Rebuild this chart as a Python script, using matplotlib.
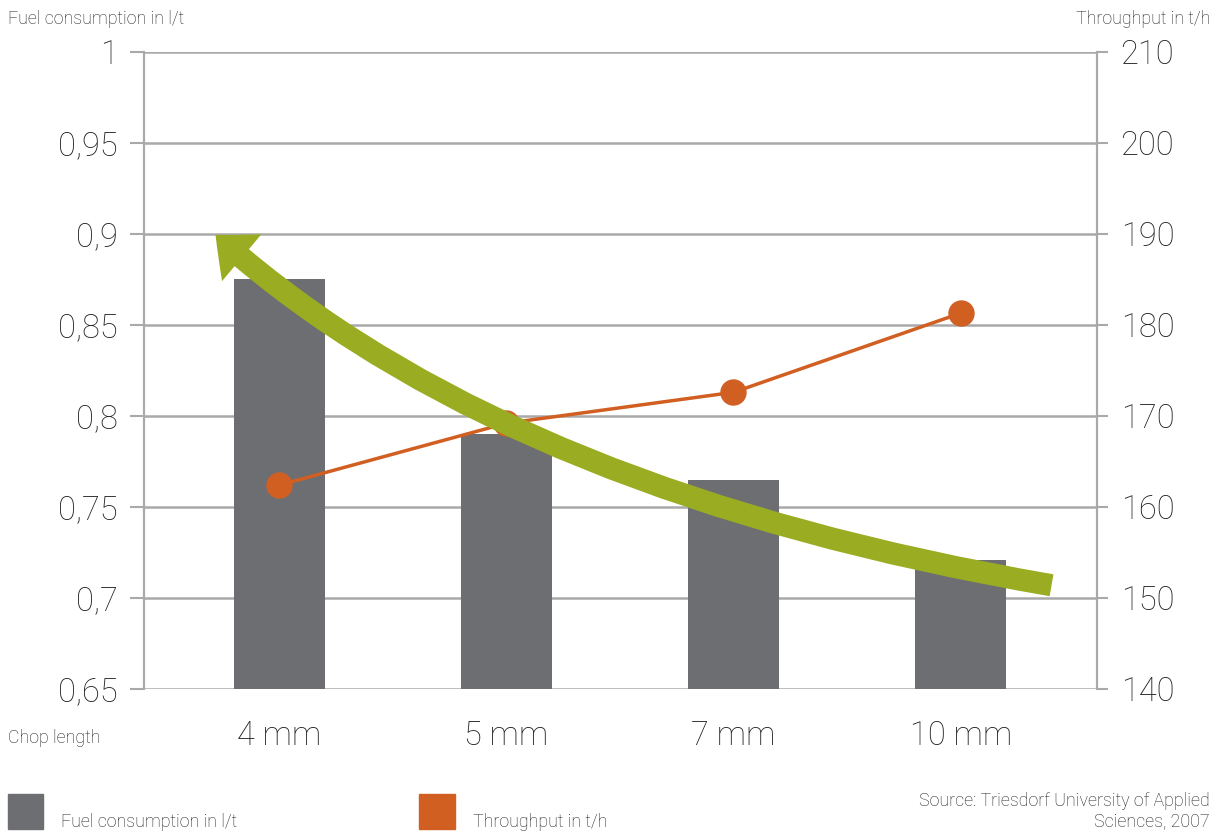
import matplotlib
matplotlib.use("Agg")
import matplotlib.pyplot as plt
from matplotlib.patches import FancyArrowPatch, Rectangle
from matplotlib.path import Path

plt.rcParams["font.family"] = ["Roboto", "Liberation Sans", "DejaVu Sans"]
plt.rcParams["font.weight"] = "light"

categories = ["4 mm", "5 mm", "7 mm", "10 mm"]
fuel = [0.875, 0.79, 0.765, 0.721]
throughput = [162.4, 169.2, 172.6, 181.3]

left_ticks = [0.65, 0.7, 0.75, 0.8, 0.85, 0.9, 0.95, 1.0]
left_labels = ["0,65", "0,7", "0,75", "0,8", "0,85", "0,9", "0,95", "1"]
right_ticks = [140, 150, 160, 170, 180, 190, 200, 210]

# trend arrow (x in category units, y in t/h units): tail, control, tip
arrow_pts = [(3.40, 151.4), (0.97, 161.8), (-0.28, 189.9)]

GREY = "#6d6e71"
ORANGE = "#d15f22"
GREEN = "#9aad22"
GRID = "#a9a9a9"
TXT = "#231f20"
BIG = 23.5
SMALL = 12.8

fig = plt.figure(figsize=(12.19, 8.32), dpi=100)
ax = fig.add_axes([0.1181, 0.1719, 0.7818, 0.7656])
ax2 = ax.twinx()

x = list(range(len(categories)))
ax.bar(x, fuel, width=0.4, color=GREY, zorder=2)
ax.set_xlim(-0.595, 3.6)
ax.set_ylim(0.65, 1.0)
ax.set_yticks(left_ticks)
ax.set_yticklabels(left_labels)
ax.yaxis.grid(True, color=GRID, linewidth=1.8, zorder=0)
ax.set_axisbelow(True)
ax.tick_params(axis="y", direction="out", length=10, width=1.5, color=GRID,
               pad=9, labelsize=BIG, labelcolor=TXT)
ax.set_xticks(x)
ax.set_xticklabels(categories)
ax.tick_params(axis="x", length=0, pad=22, labelsize=BIG, labelcolor=TXT)
for sp in ["top", "bottom"]:
    ax.spines[sp].set_visible(False)
    ax2.spines[sp].set_visible(False)
for a in (ax, ax2):
    a.spines["left"].set_color(GRID)
    a.spines["right"].set_color(GRID)
    a.spines["left"].set_linewidth(1.5)
    a.spines["right"].set_linewidth(1.5)

ax2.plot(x, throughput, color=ORANGE, linewidth=2.5, marker="o",
         markersize=18, zorder=3)
ax2.set_ylim(140, 210)
ax2.set_yticks(right_ticks)
ax2.tick_params(axis="y", direction="out", length=8, width=1.5, color=GRID,
                pad=9, labelsize=BIG, labelcolor=TXT)

path = Path(arrow_pts, [Path.MOVETO, Path.CURVE3, Path.CURVE3])
arrow = FancyArrowPatch(path=path, arrowstyle="simple,head_length=25,head_width=44,tail_width=16",
                        mutation_scale=1, color=GREEN, linewidth=0, zorder=5)
ax2.add_patch(arrow)

fig.text(8 / 1219, 1 - 19 / 832, "Fuel consumption in l/t", fontsize=SMALL,
         color=TXT, va="center", ha="left")
fig.text(1210 / 1219, 1 - 19 / 832, "Throughput in t/h", fontsize=SMALL,
         color=TXT, va="center", ha="right")
fig.text(8 / 1219, 1 - 738 / 832, "Chop length", fontsize=SMALL,
         color=TXT, va="center", ha="left")

# legend
fig.patches.append(Rectangle((8 / 1219, 1 - 829 / 832), 35 / 1219, 35 / 832,
                             transform=fig.transFigure, color=GREY))
fig.text(61 / 1219, 1 - 822 / 832, "Fuel consumption in l/t", fontsize=SMALL,
         color=TXT, va="center", ha="left")
fig.patches.append(Rectangle((419 / 1219, 1 - 829 / 832), 36 / 1219, 35 / 832,
                             transform=fig.transFigure, color=ORANGE))
fig.text(473 / 1219, 1 - 822 / 832, "Throughput in t/h", fontsize=SMALL,
         color=TXT, va="center", ha="left")
fig.text(1210 / 1219, 1 - 811 / 832, "Source: Triesdorf University of Applied\nSciences, 2007",
         fontsize=SMALL, color=TXT, va="center", ha="right", linespacing=1.2)

fig.savefig("out.png", dpi=100)
